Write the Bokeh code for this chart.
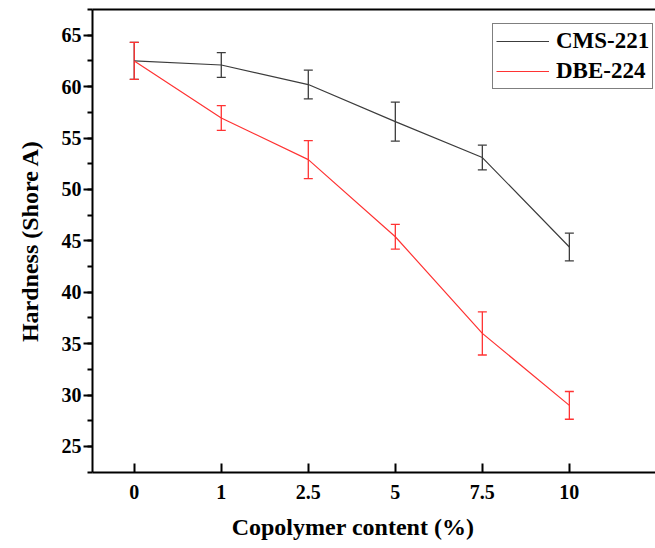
from bokeh.plotting import figure
from bokeh.models import (ColumnDataSource, Whisker, TeeHead, FixedTicker, SingleIntervalTicker,
                          LinearAxis, Legend, LegendItem, Range1d)
from bokeh.embed import file_html
from bokeh.resources import INLINE

contents = ["0", "1", "2.5", "5", "7.5", "10"]
cms_vals = [62.5, 62.1, 60.2, 56.6, 53.1, 44.4]
cms_err = [1.8, 1.2, 1.4, 1.9, 1.2, 1.35]
dbe_vals = [62.5, 56.95, 52.9, 45.4, 36.0, 29.0]
dbe_err = [1.8, 1.2, 1.85, 1.2, 2.1, 1.35]

FONT = "Liberation Serif"
BLACK = "#3c3c3c"
RED = "#ff3333"

xi = list(range(len(contents)))

p = figure(width=655, height=548, output_backend="svg", toolbar_location=None,
           x_range=Range1d(-0.48, 5.99), y_range=Range1d(22.47, 67.5),
           min_border_left=92, min_border_right=0, min_border_top=9, min_border_bottom=76)
p.outline_line_color = None
p.grid.visible = False
p.background_fill_color = "white"

renderers = []
for vals, err, col in [(cms_vals, cms_err, BLACK), (dbe_vals, dbe_err, RED)]:
    src = ColumnDataSource(dict(x=xi, y=vals,
                                lo=[v - e for v, e in zip(vals, err)],
                                hi=[v + e for v, e in zip(vals, err)]))
    r = p.line("x", "y", source=src, line_color=col, line_width=1.2)
    renderers.append(r)
    w = Whisker(base="x", lower="lo", upper="hi", source=src, line_color=col, line_width=1.3,
                upper_head=TeeHead(size=9, line_color=col, line_width=1.3),
                lower_head=TeeHead(size=9, line_color=col, line_width=1.3))
    p.add_layout(w)

leg = Legend(items=[LegendItem(label="CMS-221", renderers=[renderers[0]]),
                    LegendItem(label="DBE-224", renderers=[renderers[1]])],
             location=(400, 383), label_text_font=FONT, label_text_font_style="bold",
             label_text_font_size="23px", label_text_color="black",
             glyph_width=53, label_standoff=7,
             padding=3, spacing=2, margin=0, border_line_color="black", border_line_width=1.5,
             label_height=28, glyph_height=28)
p.add_layout(leg, "center")

xa = p.xaxis[0]
xa.ticker = FixedTicker(ticks=xi)
xa.major_label_overrides = {i: c for i, c in zip(xi, contents)}
xa.major_tick_in = 9
xa.major_tick_out = 0
xa.minor_tick_line_color = None
# trailing no-break spaces shift the centred title left, onto the middle category
xa.axis_label = "Copolymer content (%)" + "\u00a0" * 7

ya = p.yaxis[0]
ya.ticker = SingleIntervalTicker(interval=5, num_minor_ticks=2)
ya.major_tick_in = 0
ya.major_tick_out = 9
ya.minor_tick_in = 0
ya.minor_tick_out = 5
ya.axis_label = "Hardness (Shore A)"

for ax in (xa, ya):
    ax.axis_line_width = 2
    ax.major_tick_line_width = 2
    ax.minor_tick_line_width = 2
    ax.axis_line_color = "black"
    ax.major_tick_line_color = "black"
    ax.major_label_text_font = FONT
    ax.major_label_text_font_style = "bold"
    ax.major_label_text_font_size = "20px"
    ax.major_label_text_color = "black"
    ax.axis_label_text_font = FONT
    ax.axis_label_text_font_style = "bold"
    ax.axis_label_text_font_size = "24px"
    ax.axis_label_text_color = "black"
ya.minor_tick_line_color = "black"
xa.major_label_standoff = 12
xa.axis_label_standoff = 12
ya.major_label_standoff = 2
ya.axis_label_standoff = 16

top = LinearAxis(ticker=FixedTicker(ticks=[]), axis_line_width=2, major_tick_line_color=None,
                 minor_tick_line_color=None, major_label_text_font_size="0px",
                 major_label_standoff=0)
p.add_layout(top, "above")

open("out.html", "w").write(file_html(p, INLINE))
